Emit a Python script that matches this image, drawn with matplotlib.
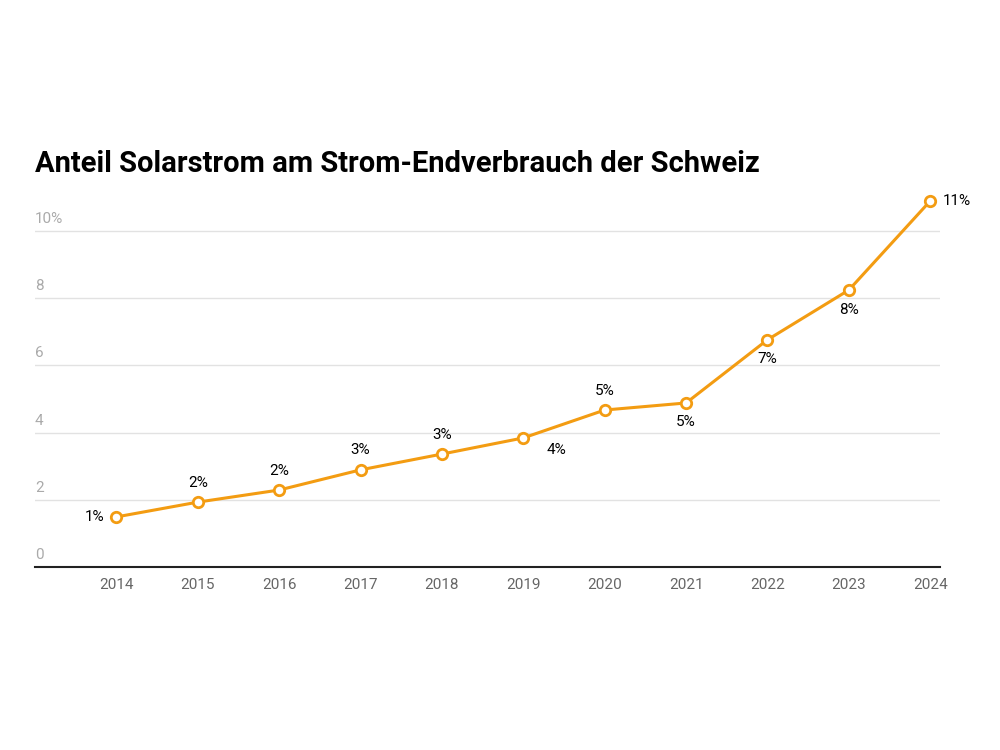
import matplotlib
matplotlib.use("Agg")
import matplotlib.pyplot as plt

years = [2014, 2015, 2016, 2017, 2018, 2019, 2020, 2021, 2022, 2023, 2024]
share = [1.49, 1.93, 2.29, 2.89, 3.36, 3.84, 4.67, 4.88, 6.76, 8.24, 10.89]
labels = ["1%", "2%", "2%", "3%", "3%", "4%", "5%", "5%", "7%", "8%", "11%"]
placement = ["left", "above", "above", "above", "above", "belowright", "above", "below", "below", "below", "right"]
yticks = [0, 2, 4, 6, 8, 10]
ytick_labels = ["0", "2", "4", "6", "8", "10%"]

plt.rcParams['font.family'] = ['Roboto', 'DejaVu Sans']
fig = plt.figure(figsize=(10, 7.5), dpi=100)
ax = fig.add_axes([0.035, 0.244, 0.905, 0.493])
col = "#f39c12"
ax.plot(years, share, color=col, lw=2.2, marker="o", ms=7.5, mfc="white", mec=col, mew=2, clip_on=False, zorder=3)
for x, y, t, p in zip(years, share, labels, placement):
    if p == "above":
        ax.annotate(t, (x, y), xytext=(0, 9), textcoords="offset points", ha="center", va="bottom", fontsize=11)
    elif p == "below":
        ax.annotate(t, (x, y), xytext=(0, -9), textcoords="offset points", ha="center", va="top", fontsize=11)
    elif p == "belowright":
        ax.annotate(t, (x, y), xytext=(17, -4), textcoords="offset points", ha="left", va="top", fontsize=11)
    elif p == "left":
        ax.annotate(t, (x, y), xytext=(-9, 0), textcoords="offset points", ha="right", va="center", fontsize=11)
    else:
        ax.annotate(t, (x, y), xytext=(9, 0), textcoords="offset points", ha="left", va="center", fontsize=11)
ax.set_xlim(2013, 2024.12)
ax.set_ylim(0, 11)
ax.set_yticks(yticks)
ax.set_yticklabels([])
for v, t in zip(yticks, ytick_labels):
    ax.text(2013, v + 0.15, t, ha="left", va="bottom", fontsize=11, color="#aaaaaa")
    if v > 0:
        ax.axhline(v, color="#e2e2e2", lw=1, zorder=1)
ax.tick_params(axis="y", length=0)
ax.set_xticks(years)
ax.set_xticklabels([str(y) for y in years], fontsize=11, color="#666666")
ax.tick_params(axis="x", length=0, pad=8)
for s in ["top", "right", "left"]:
    ax.spines[s].set_visible(False)
ax.spines["bottom"].set_color("#222222")
ax.spines["bottom"].set_linewidth(1.5)
fig.text(0.035, 0.782, "Anteil Solarstrom am Strom-Endverbrauch der Schweiz", fontsize=21, fontweight="bold", ha="left", va="center")
fig.savefig("out.png", dpi=100)
